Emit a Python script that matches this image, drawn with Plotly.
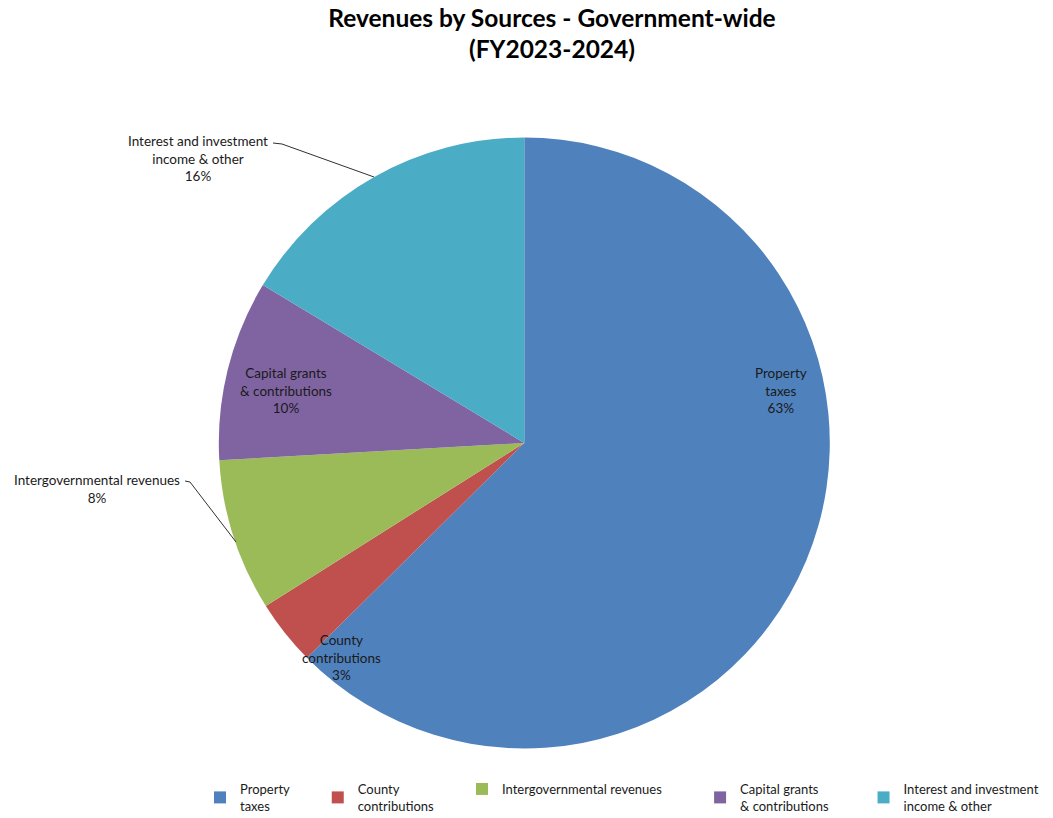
import plotly.graph_objects as go

# ---- data ----
categories = ["Property taxes", "County contributions", "Intergovernmental revenues",
              "Capital grants & contributions", "Interest and investment income & other"]
legend_labels = ["Property<br>taxes", "County<br>contributions", "Intergovernmental revenues",
                 "Capital grants<br>& contributions", "Interest and investment<br>income & other"]
slice_labels = ["Property<br>taxes", "County<br>contributions", "Intergovernmental revenues",
                "Capital grants<br>& contributions", "Interest and investment<br>income & other"]
values = [62.6, 3.45, 8.05, 9.55, 16.35]
pct_labels = ["63%", "3%", "8%", "10%", "16%"]
colors = ["#4F81BD", "#C0504D", "#9BBB59", "#8064A2", "#4BACC6"]

OFF = 8  # page body margin
W, H = 1100, 840
FONT = "Lato, 'Open Sans', sans-serif"

def px(x):
    return (x - OFF) / W

def py(y):
    return 1 - (y - OFF) / H

cx, cy, r = 524.3, 443, 305.5

# pad legend entries so the horizontal spacing matches the original
legend_pads = [7, 7, 10, 9, 0]
legend_names = ["<br>".join(line + "\u00a0" * n for line in lab.split("<br>"))
                for lab, n in zip(legend_labels, legend_pads)]

fig = go.Figure()
fig.add_trace(go.Pie(
    labels=legend_names,
    values=values,
    sort=False,
    direction="clockwise",
    rotation=0,
    marker=dict(colors=colors, line=dict(width=0)),
    textinfo="none",
    hovertext=categories,
    hoverinfo="text+percent",
    domain=dict(x=[px(cx - r), px(cx + r)], y=[py(cy + r), py(cy - r)]),
    showlegend=True,
))

# label positions (text centers) in page pixels
label_pos = [(781, 391), (341, 657), (97, 489), (286, 391), (198, 158)]
for lab, pct, (lx, ly) in zip(slice_labels, pct_labels, label_pos):
    fig.add_annotation(
        x=px(lx), y=py(ly), xref="paper", yref="paper",
        text=f"{lab}<br>{pct}", showarrow=False,
        font=dict(family=FONT, size=13.5, color="#1a1a1a"),
        align="center", xanchor="center", yanchor="middle",
    )

# leader lines
leaders = [
    [(273, 143), (282, 144), (374, 177)],
    [(185, 481), (190, 482), (236, 542)],
]
for pts in leaders:
    path = "M " + " L ".join(f"{px(x)},{py(y)}" for x, y in pts)
    fig.add_shape(type="path", path=path, xref="paper", yref="paper",
                  line=dict(color="#303030", width=1))

fig.update_layout(
    width=W, height=H,
    paper_bgcolor="white", plot_bgcolor="white",
    margin=dict(l=0, r=0, t=0, b=0),
    title=dict(
        text="<b>Revenues by Sources - Government-wide<br>(FY2023-2024)</b>",
        x=px(552), xanchor="center", y=py(26.5), yanchor="middle",
        font=dict(family=FONT, size=24.5, color="#000000"),
    ),
    legend=dict(
        orientation="h",
        x=px(200), xanchor="left", y=py(774), yanchor="top",
        font=dict(family=FONT, size=13, color="#1a1a1a"),
        traceorder="normal", itemclick=False, itemwidth=30,
    ),
)

fig.write_html("out.html")
